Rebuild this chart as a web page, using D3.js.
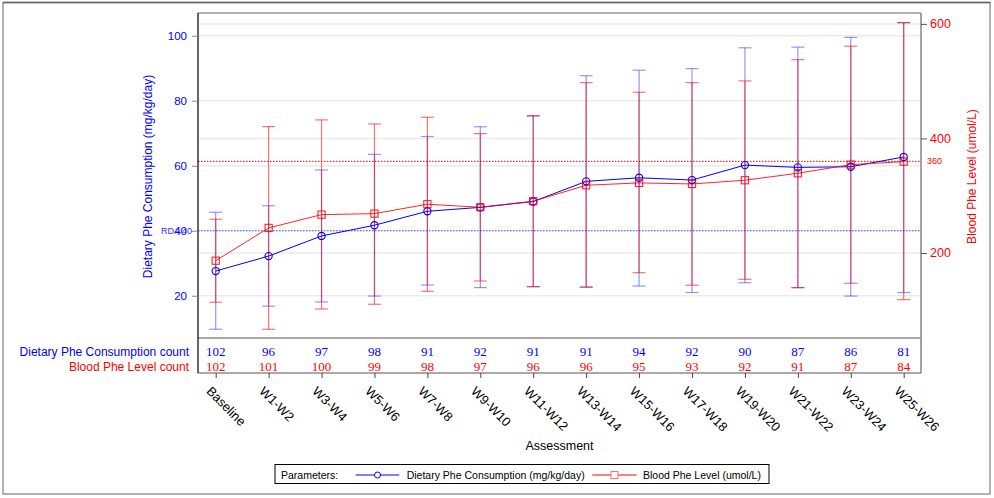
<!DOCTYPE html>
<html>
<head>
<meta charset="utf-8">
<script src="https://cdn.jsdelivr.net/npm/d3@7"></script>
<style>
  html, body { margin: 0; padding: 0; background: #fff; }
  svg { display: block; }
  text { font-family: "Liberation Sans", Arial, sans-serif; }
</style>
</head>
<body>
<svg id="chart" width="994" height="498"></svg>
<script>
// ---------- data ----------
const categories = ["Baseline","W1-W2","W3-W4","W5-W6","W7-W8","W9-W10","W11-W12","W13-W14","W15-W16","W17-W18","W19-W20","W21-W22","W23-W24","W25-W26"];

const dietMean  = [27.6, 32.2, 38.4, 41.7, 46.0, 47.2, 49.0, 55.2, 56.3, 55.6, 60.2, 59.5, 59.7, 62.7];
const dietLower = [9.7, 16.8, 18.1, 19.9, 23.3, 22.5, 22.8, 22.6, 23.0, 21.0, 24.0, 22.5, 19.9, 21.0];
const dietUpper = [45.7, 47.7, 58.7, 63.5, 69.0, 72.0, 75.3, 87.7, 89.4, 89.9, 96.3, 96.5, 99.5, 104.0];

const bloodMean  = [186.5, 243.7, 266.9, 268.7, 285.1, 279.8, 290.3, 318.2, 322.3, 320.5, 327.0, 339.2, 354.2, 359.5];
const bloodLower = [113.9, 66.7, 102.2, 110.4, 133.0, 151.1, 141.1, 140.6, 165.6, 143.6, 154.0, 139.4, 147.0, 118.4];
const bloodUpper = [258.8, 420.6, 432.3, 425.3, 437.0, 408.4, 439.8, 497.5, 480.7, 497.5, 500.4, 537.6, 561.0, 602.3];

const dietN  = [102, 96, 97, 98, 91, 92, 91, 91, 94, 92, 90, 87, 86, 81];
const bloodN = [102, 101, 100, 99, 98, 97, 96, 96, 95, 93, 92, 91, 87, 84];

const leftTicks  = [20, 40, 60, 80, 100];
const rightTicks = [200, 400, 600];
const rdaValue = 40;
const bloodTarget = 360;

const leftTitle  = "Dietary Phe Consumption (mg/kg/day)";
const rightTitle = "Blood Phe Level (umol/L)";
const xTitle = "Assessment";
const dietCountLabel = "Dietary Phe Consumption count";
const bloodCountLabel = "Blood Phe Level count";

// ---------- layout ----------
const BLUE = "#0000ff", RED = "#ff0000";
const L = 198, R = 921, T = 13, B = 338, TB = 373;

const svg = d3.select("#chart");

const x = d3.scalePoint().domain(categories).range([215.7, 903.7]);
const yL = d3.scaleLinear().domain([7, 107]).range([B, T]);
const yR = d3.scaleLinear().domain([51.5, 619]).range([B, T]);

// outer frame
svg.append("rect").attr("x", 3).attr("y", 2.5).attr("width", 987).attr("height", 491.5)
  .attr("fill", "none").attr("stroke", "#999").attr("stroke-width", 1.5);
svg.append("line").attr("x1", 3).attr("x2", 990).attr("y1", 2.5).attr("y2", 2.5)
  .attr("stroke", "#666").attr("stroke-width", 1.5);

// gridlines
const grid = svg.append("g");
leftTicks.forEach(v => grid.append("line").attr("x1", L).attr("x2", R)
  .attr("y1", yL(v)).attr("y2", yL(v)).attr("stroke", "#ebebeb").attr("stroke-width", 1.5));
rightTicks.forEach(v => grid.append("line").attr("x1", L).attr("x2", R)
  .attr("y1", yR(v)).attr("y2", yR(v)).attr("stroke", "#ebebeb").attr("stroke-width", 1.5));

// reference lines
svg.append("line").attr("x1", L).attr("x2", R).attr("y1", yR(bloodTarget)).attr("y2", yR(bloodTarget))
  .attr("stroke", "#e00000").attr("stroke-width", 1).attr("stroke-dasharray", "1.5,1.5");
svg.append("line").attr("x1", L).attr("x2", R).attr("y1", yL(rdaValue)).attr("y2", yL(rdaValue))
  .attr("stroke", "#5050ff").attr("stroke-width", 1).attr("stroke-dasharray", "1.5,1.5");

// error bars
function errorBars(lower, upper, scale, color, op) {
  const g = svg.append("g").attr("stroke", color).attr("stroke-opacity", op).attr("stroke-width", 1.2).attr("fill", "none");
  categories.forEach((c, i) => {
    const cx = x(c);
    g.append("line").attr("x1", cx).attr("x2", cx).attr("y1", scale(lower[i])).attr("y2", scale(upper[i]));
    g.append("line").attr("x1", cx - 6.5).attr("x2", cx + 6.5).attr("y1", scale(lower[i])).attr("y2", scale(lower[i]));
    g.append("line").attr("x1", cx - 6.5).attr("x2", cx + 6.5).attr("y1", scale(upper[i])).attr("y2", scale(upper[i]));
  });
}
errorBars(dietLower, dietUpper, yL, BLUE, 0.42);
errorBars(bloodLower, bloodUpper, yR, RED, 0.55);

// mean lines
const dietLine = d3.line().x((d, i) => x(categories[i])).y(d => yL(d));
const bloodLine = d3.line().x((d, i) => x(categories[i])).y(d => yR(d));
svg.append("path").attr("d", dietLine(dietMean)).attr("fill", "none").attr("stroke", BLUE).attr("stroke-width", 1);
svg.append("path").attr("d", bloodLine(bloodMean)).attr("fill", "none").attr("stroke", RED).attr("stroke-opacity", 0.85).attr("stroke-width", 1);

// markers
svg.append("g").selectAll("circle").data(dietMean).join("circle")
  .attr("cx", (d, i) => x(categories[i])).attr("cy", d => yL(d)).attr("r", 3.6)
  .attr("fill", "none").attr("stroke", BLUE).attr("stroke-width", 1.1);
svg.append("g").selectAll("rect").data(bloodMean).join("rect")
  .attr("x", (d, i) => x(categories[i]) - 3.6).attr("y", d => yR(d) - 3.6)
  .attr("width", 7.2).attr("height", 7.2)
  .attr("fill", "none").attr("stroke", RED).attr("stroke-opacity", 0.85).attr("stroke-width", 1.1);

// plot frame
svg.append("line").attr("x1", L).attr("x2", R).attr("y1", T).attr("y2", T).attr("stroke", "#999").attr("stroke-width", 1.5);
svg.append("line").attr("x1", L).attr("x2", R).attr("y1", B).attr("y2", B).attr("stroke", "#555").attr("stroke-width", 1.2);
svg.append("line").attr("x1", R).attr("x2", R).attr("y1", T).attr("y2", TB).attr("stroke", "#999").attr("stroke-width", 1.8);
svg.append("line").attr("x1", L).attr("x2", L).attr("y1", T).attr("y2", TB).attr("stroke", "#000").attr("stroke-width", 1.2);
svg.append("line").attr("x1", L).attr("x2", R).attr("y1", TB).attr("y2", TB).attr("stroke", "#555").attr("stroke-width", 1.2);

// left axis
const axL = d3.axisLeft(yL).tickValues(leftTicks).tickSize(6).tickPadding(5).tickFormat(d3.format("d"));
const gL = svg.append("g").attr("transform", `translate(${L},0)`).call(axL);
gL.select(".domain").remove();
gL.selectAll(".tick line").attr("stroke", "#888");
gL.selectAll(".tick text").attr("fill", BLUE).attr("font-size", 11.5).attr("font-family", "Liberation Sans, Arial, sans-serif");

// right axis
const axR = d3.axisRight(yR).tickValues(rightTicks).tickSize(6).tickPadding(3).tickFormat(d3.format("d"));
const gR = svg.append("g").attr("transform", `translate(${R},0)`).call(axR);
gR.select(".domain").remove();
gR.selectAll(".tick line").attr("stroke", "#555");
gR.selectAll(".tick text").attr("fill", RED).attr("font-size", 12.5).attr("font-family", "Liberation Sans, Arial, sans-serif");

// reference labels
svg.append("text").attr("x", 927).attr("y", yR(bloodTarget) + 3).attr("fill", RED)
  .attr("font-size", 9).text(String(bloodTarget));
svg.append("text").attr("x", 161).attr("y", yL(rdaValue) + 3).attr("fill", "#3030ff")
  .attr("font-size", 9).text("RDA " + rdaValue);

// axis titles
svg.append("text").attr("transform", "translate(152,176.5) rotate(-90)").attr("text-anchor", "middle")
  .attr("fill", BLUE).attr("font-size", 12).text(leftTitle);
svg.append("text").attr("transform", "translate(975.5,176.5) rotate(-90)").attr("text-anchor", "middle")
  .attr("fill", RED).attr("font-size", 12).text(rightTitle);

// count table
svg.append("text").attr("x", 189).attr("y", 356).attr("text-anchor", "end").attr("fill", BLUE)
  .attr("font-size", 12).text(dietCountLabel);
svg.append("text").attr("x", 189).attr("y", 371).attr("text-anchor", "end").attr("fill", RED)
  .attr("font-size", 12).text(bloodCountLabel);
const serif = "Liberation Serif, 'Times New Roman', serif";
svg.append("g").selectAll("text").data(dietN).join("text")
  .attr("x", (d, i) => x(categories[i])).attr("y", 356).attr("text-anchor", "middle")
  .attr("fill", BLUE).attr("font-size", 13).style("font-family", serif).text(d => d);
svg.append("g").selectAll("text").data(bloodN).join("text")
  .attr("x", (d, i) => x(categories[i])).attr("y", 371).attr("text-anchor", "middle")
  .attr("fill", RED).attr("font-size", 13).style("font-family", serif).text(d => d);

// x axis (below table)
const axX = d3.axisBottom(x).tickSize(5).tickFormat("");
const gX = svg.append("g").attr("transform", `translate(0,${TB})`).call(axX);
gX.select(".domain").remove();
gX.selectAll(".tick line").attr("stroke", "#444");
svg.append("g").selectAll("text").data(categories).join("text")
  .attr("transform", d => `translate(${x(d) - 10},392) rotate(45)`)
  .attr("font-size", 12.8).attr("fill", "#000").text(d => d);

svg.append("text").attr("x", (L + R) / 2).attr("y", 450).attr("text-anchor", "middle")
  .attr("font-size", 12.5).attr("fill", "#000").text(xTitle);

// legend
const lg = svg.append("g");
lg.append("rect").attr("x", 275).attr("y", 464.5).attr("width", 494).attr("height", 19)
  .attr("fill", "#fff").attr("stroke", "#000").attr("stroke-width", 1);
lg.append("text").attr("x", 281).attr("y", 478.5).attr("font-size", 10.5).attr("fill", "#000").text("Parameters:");
lg.append("line").attr("x1", 355.7).attr("x2", 399.3).attr("y1", 475).attr("y2", 475).attr("stroke", BLUE).attr("stroke-width", 1);
lg.append("circle").attr("cx", 377.5).attr("cy", 475).attr("r", 3).attr("fill", "#fff").attr("stroke", BLUE).attr("stroke-width", 1);
lg.append("text").attr("x", 406.7).attr("y", 478.5).attr("font-size", 10.5).attr("fill", "#000").text(leftTitle);
lg.append("line").attr("x1", 592.3).attr("x2", 636.7).attr("y1", 475).attr("y2", 475).attr("stroke", RED).attr("stroke-width", 1);
lg.append("rect").attr("x", 611).attr("y", 471.5).attr("width", 7).attr("height", 7).attr("fill", "#fff").attr("stroke", "#ff7070").attr("stroke-width", 1);
lg.append("text").attr("x", 643).attr("y", 478.5).attr("font-size", 10.5).attr("fill", "#000").text(rightTitle);
</script>
</body>
</html>
